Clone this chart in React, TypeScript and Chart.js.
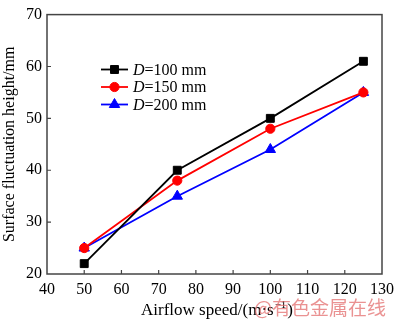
import React, { useEffect, useRef } from "react";
import { Chart, registerables } from "chart.js";

Chart.register(...registerables);

const airflowSpeeds = [50, 75, 100, 125];
const heightD100 = [22, 40, 50, 61];
const heightD150 = [25, 38, 48, 55];
const heightD200 = [25, 35, 44, 55];
const seriesLabels = ["100 mm", "150 mm", "200 mm"];
const seriesColors = ["#000000", "#ff0000", "#0000ff"];
const seriesMarkers = ["rect", "circle", "triangle"];
const markerRadii = [5.6, 4.6, 6];

const SERIF = "'Liberation Serif', 'Times New Roman', serif";

function drawMarker(ctx: any, style: string, r: number, x: number, y: number) {
  ctx.beginPath();
  if (style === "rect") {
    const s = r * Math.SQRT1_2;
    ctx.rect(x - s, y - s, 2 * s, 2 * s);
  } else if (style === "circle") {
    ctx.arc(x, y, r, 0, Math.PI * 2);
  } else {
    const w = (r * Math.sqrt(3)) / 2;
    ctx.moveTo(x, y - r);
    ctx.lineTo(x + w, y + r / 2);
    ctx.lineTo(x - w, y + r / 2);
    ctx.closePath();
  }
  ctx.fill();
  ctx.stroke();
}

const framePlugin = {
  id: "framePlugin",
  afterDraw(chart: any) {
    const { ctx, chartArea } = chart;
    const { left, right, top, bottom } = chartArea;
    const xs = chart.scales.x;
    const ys = chart.scales.y;
    ctx.save();
    ctx.strokeStyle = "#444";
    ctx.lineWidth = 1.5;
    ctx.strokeRect(left, top, right - left, bottom - top);
    ctx.lineWidth = 1.2;
    ctx.beginPath();
    for (let v = 50; v <= 120; v += 10) {
      const px = xs.getPixelForValue(v);
      ctx.moveTo(px, bottom);
      ctx.lineTo(px, bottom - 4);
    }
    for (let v = 30; v <= 60; v += 10) {
      const py = ys.getPixelForValue(v);
      ctx.moveTo(left, py);
      ctx.lineTo(left + 4, py);
    }
    ctx.stroke();

    // legend
    const lx0 = 101;
    const lx1 = 128;
    const ly0 = 69.5;
    const dy = 17.5;
    for (let i = 0; i < 3; i++) {
      const y = ly0 + i * dy;
      ctx.strokeStyle = seriesColors[i];
      ctx.lineWidth = 1.8;
      ctx.beginPath();
      ctx.moveTo(lx0, y);
      ctx.lineTo(lx1, y);
      ctx.stroke();
      ctx.fillStyle = seriesColors[i];
      ctx.lineWidth = 1;
      drawMarker(ctx, seriesMarkers[i], markerRadii[i], (lx0 + lx1) / 2, y);
      ctx.fillStyle = "#000";
      ctx.textBaseline = "middle";
      ctx.textAlign = "left";
      ctx.font = "italic 16px " + SERIF;
      ctx.fillText("D", 133, y + 1);
      const w = ctx.measureText("D").width;
      ctx.font = "16px " + SERIF;
      ctx.fillText("=" + seriesLabels[i], 133 + w, y + 1);
    }

    // x axis title with superscript
    ctx.fillStyle = "#000";
    ctx.textBaseline = "alphabetic";
    ctx.textAlign = "left";
    let tx = 141;
    const base = 315;
    ctx.font = "17px " + SERIF;
    const t1 = "Airflow speed/(m·s";
    ctx.fillText(t1, tx, base);
    tx += ctx.measureText(t1).width + 1;
    ctx.font = "11px " + SERIF;
    ctx.fillText("−1", tx, base - 7);
    tx += ctx.measureText("−1").width + 1;
    ctx.font = "17px " + SERIF;
    ctx.fillText(")", tx, base);

    // watermark
    ctx.font = "19px 'Noto Sans CJK SC', sans-serif";
    ctx.fillStyle = "rgba(225,100,100,0.7)";
    ctx.fillText("@有色金属在线", 254, 315);
    ctx.restore();
  },
};

export default function App() {
  const ref = useRef<HTMLCanvasElement | null>(null);
  useEffect(() => {
    document.body.style.margin = "0";
    const series = [heightD100, heightD150, heightD200];
    const chart = new Chart(ref.current as HTMLCanvasElement, {
      type: "line",
      data: {
        datasets: series.map((vals, i) => ({
          label: "D=" + seriesLabels[i],
          data: airflowSpeeds.map((x, j) => ({ x, y: vals[j] })),
          borderColor: seriesColors[i],
          backgroundColor: seriesColors[i],
          borderWidth: 1.8,
          pointStyle: seriesMarkers[i] as any,
          pointRadius: markerRadii[i],
          pointBorderWidth: 1,
          tension: 0,
        })),
      },
      options: {
        animation: false,
        responsive: false,
        devicePixelRatio: 1,
        layout: { padding: { left: 0, top: 3, right: 12, bottom: 0 } },
        plugins: { legend: { display: false }, tooltip: { enabled: false } },
        scales: {
          x: {
            type: "linear",
            min: 40,
            max: 130,
            grid: { display: false, drawTicks: false },
            border: { display: false },
            ticks: {
              stepSize: 10,
              padding: 6,
              color: "#000",
              font: { family: SERIF, size: 16 },
              maxRotation: 0,
            },
            title: { display: false },
            afterFit: (s: any) => {
              s.height = 48;
            },
          },
          y: {
            type: "linear",
            min: 20,
            max: 70,
            grid: { display: false, drawTicks: false },
            border: { display: false },
            ticks: {
              stepSize: 10,
              padding: 5,
              color: "#000",
              font: { family: SERIF, size: 16 },
            },
            title: {
              display: true,
              text: "Surface fluctuation height/mm",
              color: "#000",
              font: { family: SERIF, size: 16 },
              padding: { top: 0, bottom: 0 },
            },
            afterFit: (s: any) => {
              s.width = 47;
            },
          },
        },
      } as any,
      plugins: [framePlugin],
    });
    return () => chart.destroy();
  }, []);
  return (
    <div style={{ position: "absolute", left: 0, top: 0, width: 400, height: 322, background: "#fff" }}>
      <canvas ref={ref} width={400} height={322} style={{ width: 400, height: 322 }} />
    </div>
  );
}
